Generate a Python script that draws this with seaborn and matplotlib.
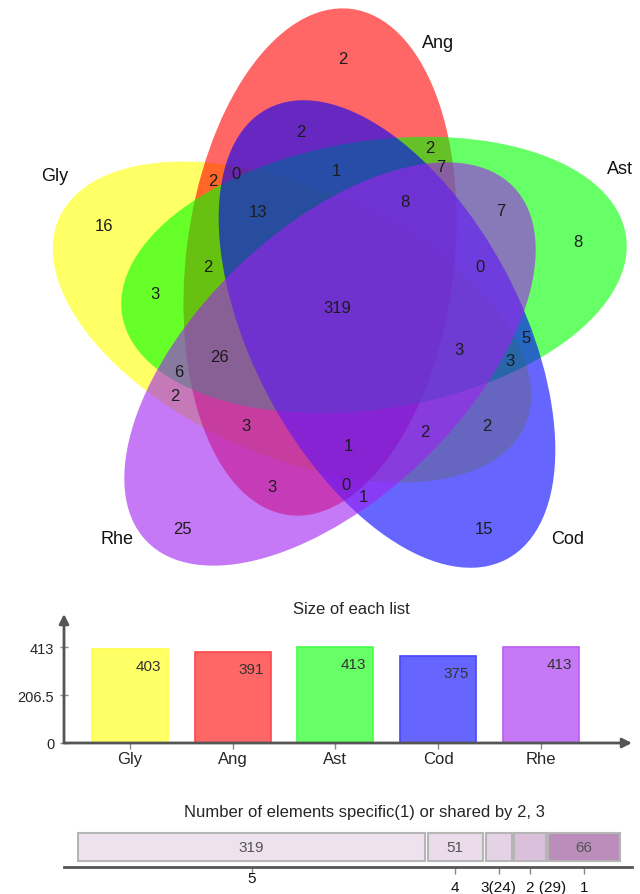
import matplotlib
matplotlib.use("Agg")
import matplotlib.pyplot as plt
from matplotlib.patches import Ellipse
from matplotlib.colors import to_rgb
import seaborn as sns

# ---- data -------------------------------------------------------------
sets = ["Gly", "Ang", "Ast", "Cod", "Rhe"]
list_sizes = [403, 391, 413, 375, 413]
set_colors = ["#FFFF00", "#FF0000", "#00FF00", "#0000FF", "#A020F0"]

# element counts of the 31 Venn regions
region_counts = [2, 2, 2, 7, 2, 0, 1, 13, 8, 7, 8, 16, 2, 0, 3, 319,
                 5, 26, 3, 3, 6, 2, 3, 2, 2, 1, 3, 0, 1, 25, 15]

shared_levels = ["5", "4", "3(24)", "2 (29)", "1"]
shared_counts = [319, 51, 24, 29, 66]
shared_shown = ["319", "51", "", "", "66"]
shared_colors = ["#EEE2EE", "#EBDCEB", "#E5D3E5", "#DBC0DB", "#BA8DBA"]

# ---- layout (pixel units of the diagram panel, y downward) -------------
PANEL_H = 600
ellipse_layout = {          # centre x, centre y, axis angle (deg)
    "Gly": (292, 323, -24),
    "Ang": (320, 263, 83),
    "Ast": (374, 276, 9),
    "Cod": (387, 335, 118),
    "Rhe": (330, 365, 44),
}
ELL_W, ELL_H = 510, 268

region_xy = [(343, 60), (301, 133), (430, 149), (441, 168), (213, 182),
             (236, 175), (336, 172), (258, 213), (405, 203), (501, 212),
             (578, 243), (104, 227), (208, 268), (480, 268), (155, 295),
             (337, 309), (526, 339), (219, 358), (459, 351), (510, 362),
             (179, 373), (175, 397), (246, 427), (425, 433), (487, 427),
             (348, 447), (272, 488), (346, 486), (363, 498), (182, 530),
             (484, 530)]
set_label_xy = {"Gly": (55, 177), "Ang": (438, 43), "Ast": (620, 170),
                "Cod": (568, 540), "Rhe": (117, 540)}

# tick-label placement under the sharing bar: (dx, dy) in pixels, alignment
level_label_style = [(0, -11, "center"), (0, -20, "center"),
                     (0, -20, "center"), (-4, -20, "left"),
                     (0, -20, "center")]

sns.set_style("white")
plt.rcParams["font.family"] = ["Liberation Sans", "DejaVu Sans"]
NARROW = ["Liberation Sans Narrow", "Liberation Sans", "DejaVu Sans"]

W, H = 640, 895
fig = plt.figure(figsize=(W / 100, H / 100), dpi=100)


def px_axes(x0, y0, x1, y1):
    """Axes spanning the pixel box (x0, y0)-(x1, y1), y measured downward."""
    return fig.add_axes([x0 / W, 1 - y1 / H, (x1 - x0) / W, (y1 - y0) / H])


def blend(c, a):
    r, g, b = to_rgb(c)
    return (1 - a * (1 - r), 1 - a * (1 - g), 1 - a * (1 - b))


# ---- five-set Venn diagram ---------------------------------------------
ax_v = px_axes(0, 0, W, PANEL_H)
ax_v.set_xlim(0, W)
ax_v.set_ylim(0, PANEL_H)
ax_v.axis("off")

for name, col in zip(sets, set_colors):
    cx, cy, ang = ellipse_layout[name]
    ax_v.add_patch(Ellipse((cx, PANEL_H - cy), ELL_W, ELL_H, angle=ang,
                           facecolor=col, alpha=0.6, edgecolor="none"))

for n, (x, y) in zip(region_counts, region_xy):
    ax_v.text(x, PANEL_H - y, str(n), ha="center", va="center",
              fontsize=12, color="#1c1c1c")

for name in sets:
    x, y = set_label_xy[name]
    ax_v.text(x, PANEL_H - y, name, ha="center", va="center",
              fontsize=13, color="#111111")

# ---- size of each list -------------------------------------------------
ax_b = px_axes(64, 615, 632, 744)
face = [blend(c, 0.6) for c in set_colors]
edge = [blend(c, 0.72) for c in set_colors]
sns.barplot(x=sets, y=list_sizes, hue=sets, palette=face, saturation=1,
            width=0.74, legend=False, ax=ax_b)
for patch, ec in zip(ax_b.patches, edge):
    patch.set_edgecolor(ec)
    patch.set_linewidth(1.2)

ax_b.set_xlim(-0.642, 4.886)
ax_b.set_ylim(0, 555)
for s in ax_b.spines.values():
    s.set_visible(False)
arrow = dict(arrowstyle="-|>", color="#555555", lw=2, mutation_scale=14,
             shrinkA=0, shrinkB=0)
ax_b.annotate("", xy=(1, 0), xytext=(0, 0), xycoords="axes fraction",
              arrowprops=arrow, annotation_clip=False)
ax_b.annotate("", xy=(0, 1), xytext=(0, 0), xycoords="axes fraction",
              arrowprops=arrow, annotation_clip=False)

top = max(list_sizes)
ax_b.set_yticks([0, top / 2, top], labels=["0", f"{top / 2:g}", str(top)])
ax_b.tick_params(axis="y", direction="inout", length=6, width=1,
                 color="#888888", labelsize=10.5, pad=4, left=True)
ax_b.tick_params(axis="x", direction="out", length=4, width=1,
                 color="#888888", labelsize=12, pad=2, bottom=True)
ax_b.set_xlabel("")
ax_b.set_ylabel("")
for i, v in enumerate(list_sizes):
    ax_b.annotate(str(v), xy=(i, v), xytext=(18, -17),
                  textcoords="offset pixels", ha="center", va="center",
                  fontsize=11, color="#333333")
fig.text(351 / W, 1 - 609 / H, "Size of each list", ha="center",
         va="center", fontsize=12)

# ---- number of elements by degree of sharing ---------------------------
PX_PER_UNIT = 1.088
GAP = 2.5 / PX_PER_UNIT
ax_s = px_axes(64, 826, 632, 868)
ax_s.set_xlim(-14 / PX_PER_UNIT, (632 - 78) / PX_PER_UNIT)
ax_s.set_ylim(0, 42)

lefts, centers = [], []
pos = 0.0
for n in shared_counts:
    lefts.append(pos)
    centers.append(pos + n / 2)
    pos += n + GAP
ax_s.barh(20, shared_counts, left=lefts, height=28, color=shared_colors,
          edgecolor="#B5B5B5", linewidth=1.5)
for c, t in zip(centers, shared_shown):
    ax_s.text(c, 20, t, ha="center", va="center", fontsize=11,
              color="#555555")

for side in ("top", "left", "right"):
    ax_s.spines[side].set_visible(False)
ax_s.spines["bottom"].set_color("#555555")
ax_s.spines["bottom"].set_linewidth(2)
ax_s.set_yticks([])
ax_s.set_xticks(centers, labels=[""] * len(centers))
ax_s.tick_params(axis="x", direction="out", length=5, width=1,
                 color="#888888", bottom=True)
for c, lab, (dx, dy, ha) in zip(centers, shared_levels, level_label_style):
    ax_s.annotate(lab, xy=(c, 0), xycoords=("data", "axes fraction"),
                  xytext=(dx, dy), textcoords="offset pixels", ha=ha,
                  va="center", fontsize=11, family=NARROW, color="#111111",
                  annotation_clip=False)
fig.text(364 / W, 1 - 813 / H,
         "Number of elements specific(1) or shared by 2, 3",
         ha="center", va="center", fontsize=12)

fig.savefig("out.png", dpi=100, facecolor="white")
